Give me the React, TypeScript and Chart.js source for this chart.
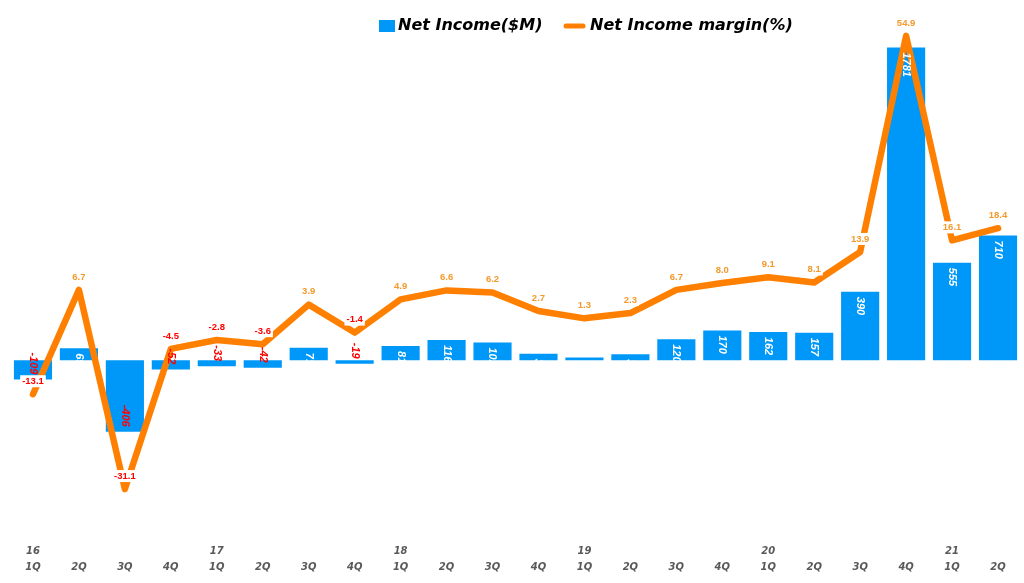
import React, { useEffect, useRef } from "react";
import { Chart, registerables } from "chart.js";

Chart.register(...registerables);

const years = ["16", "", "", "", "17", "", "", "", "18", "", "", "", "19", "", "", "", "20", "", "", "", "21", ""];
const quarters = ["1Q", "2Q", "3Q", "4Q", "1Q", "2Q", "3Q", "4Q", "1Q", "2Q", "3Q", "4Q", "1Q", "2Q", "3Q", "4Q", "1Q", "2Q", "3Q", "4Q", "1Q", "2Q"];
const netIncome = [-109, 69, -406, -52, -33, -42, 71, -19, 81, 116, 102, 38, 16, 35, 120, 170, 162, 157, 390, 1781, 555, 710];
const netMargin = [-13.1, 6.7, -31.1, -4.5, -2.8, -3.6, 3.9, -1.4, 4.9, 6.6, 6.2, 2.7, 1.3, 2.3, 6.7, 8.0, 9.1, 8.1, 13.9, 54.9, 16.1, 18.4];
const seriesNames = ["Net Income($M)", "Net Income margin(%)"];

const BAR_COLOR = "#0098F8";
const LINE_COLOR = "#FF8000";
const POS_LABEL = "#F39A2B";
const NEG_LABEL = "#FF0000";

const labelPlugin = {
  id: "valueLabels",
  afterDatasetsDraw(chart: any) {
    const ctx = chart.ctx;
    const barMeta = chart.getDatasetMeta(0);
    ctx.save();
    ctx.font = "italic bold 11px 'Liberation Sans', Arial, sans-serif";
    ctx.textBaseline = "middle";
    barMeta.data.forEach((el: any, i: number) => {
      const v = netIncome[i];
      ctx.save();
      if (v >= 0) {
        ctx.translate(el.x, el.y + 5);
        ctx.rotate(Math.PI / 2);
        ctx.textAlign = "left";
        ctx.fillStyle = "#FFFFFF";
      } else {
        ctx.translate(el.x, el.y - 5);
        ctx.rotate(Math.PI / 2);
        ctx.textAlign = "right";
        ctx.fillStyle = NEG_LABEL;
      }
      ctx.fillText(String(v), 0, 0);
      ctx.restore();
    });
    ctx.restore();
    const lineMeta = chart.getDatasetMeta(1);
    ctx.save();
    ctx.font = "bold 9.5px 'Liberation Sans', Arial, sans-serif";
    ctx.textAlign = "center";
    ctx.textBaseline = "middle";
    lineMeta.data.forEach((el: any, i: number) => {
      const v = netMargin[i];
      const txt = v.toFixed(1);
      const w = ctx.measureText(txt).width;
      const cx = el.x;
      const cy = el.y - 13;
      ctx.fillStyle = "#FFFFFF";
      ctx.fillRect(cx - w / 2 - 2, cy - 6, w + 4, 12);
      ctx.fillStyle = v >= 0 ? POS_LABEL : NEG_LABEL;
      ctx.fillText(txt, cx, cy);
    });
    ctx.restore();
  },
  afterDraw(chart: any) {
    const ctx = chart.ctx;
    ctx.save();
    ctx.font = "italic bold 16px 'DejaVu Sans', Verdana, sans-serif";
    ctx.textBaseline = "middle";
    ctx.textAlign = "left";
    const y = 26;
    ctx.fillStyle = BAR_COLOR;
    ctx.fillRect(379, 20, 16, 12);
    ctx.fillStyle = "#000000";
    ctx.fillText(seriesNames[0], 398, y);
    ctx.strokeStyle = LINE_COLOR;
    ctx.lineWidth = 5;
    ctx.lineCap = "round";
    ctx.beginPath();
    ctx.moveTo(566, y);
    ctx.lineTo(583, y);
    ctx.stroke();
    ctx.fillText(seriesNames[1], 590, y);
    ctx.restore();
  },
};

export default function App() {
  const ref = useRef<HTMLCanvasElement | null>(null);
  useEffect(() => {
    if (!ref.current) return;
    const labels = quarters.map((q, i) => [years[i], q]);
    const chart = new Chart(ref.current, {
      type: "bar",
      data: {
        labels,
        datasets: [
          {
            type: "bar",
            label: seriesNames[0],
            data: netIncome,
            backgroundColor: BAR_COLOR,
            yAxisID: "y",
            order: 2,
            categoryPercentage: 1,
            barPercentage: 0.83,
          },
          {
            type: "line",
            label: seriesNames[1],
            data: netMargin,
            borderColor: LINE_COLOR,
            backgroundColor: LINE_COLOR,
            borderWidth: 6.5,
            pointRadius: 0,
            tension: 0,
            borderCapStyle: "round",
            borderJoinStyle: "round",
            yAxisID: "y1",
            order: 1,
          },
        ],
      } as any,
      options: {
        animation: false,
        responsive: true,
        maintainAspectRatio: false,
        layout: { padding: { left: 10, right: 3, top: 9, bottom: 1 } },
        plugins: { legend: { display: false }, tooltip: { enabled: false } },
        scales: {
          x: {
            grid: { display: false, drawTicks: false },
            border: { display: false },
            ticks: {
              maxRotation: 0,
              autoSkip: false,
              padding: 7,
              color: "#595959",
              font: { family: "'DejaVu Sans', Verdana, sans-serif", size: 10, weight: "bold", style: "italic", lineHeight: 1.6 },
            },
          },
          y: { display: false, min: -1000, max: 2000 },
          y1: { display: false, min: -40, max: 60, position: "right" },
        },
      } as any,
      plugins: [labelPlugin],
    });
    return () => chart.destroy();
  }, []);
  return (
    <div style={{ position: "fixed", left: 0, top: 0, width: 1024, height: 583, background: "#fff" }}>
      <canvas ref={ref} />
    </div>
  );
}
